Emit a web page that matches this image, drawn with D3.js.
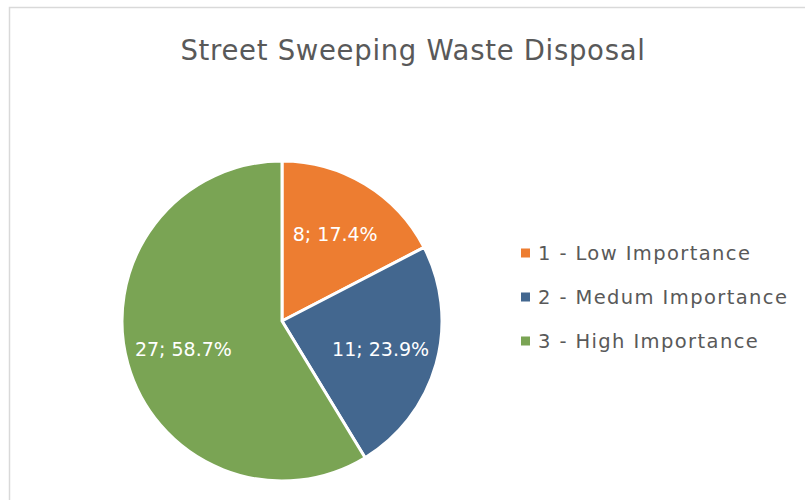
<!DOCTYPE html>
<html>
<head>
<meta charset="utf-8">
<script src="https://cdn.jsdelivr.net/npm/d3@7"></script>
<style>
  body { margin: 0; background: #fff; }
  svg { display: block; font-family: "DejaVu Sans", "Noto Sans", sans-serif; }
</style>
</head>
<body>
<svg id="chart"></svg>
<script>
const categories = ["1 - Low Importance", "2 - Medum Importance", "3 - High Importance"];
const counts = [8, 11, 27];
const percents = [17.4, 23.9, 58.7];
const colors = ["#ED7D31", "#43678F", "#7AA454"];

const width = 805, height = 500;
const svg = d3.select("#chart").attr("width", width).attr("height", height);

// chart frame (runs off the right and bottom)
svg.append("rect")
    .attr("x", 9.5).attr("y", 7.5)
    .attr("width", 820).attr("height", 520)
    .attr("fill", "#fff")
    .attr("stroke", "#d9d9d9")
    .attr("stroke-width", 1.5);

svg.append("text")
    .attr("x", 413).attr("y", 60)
    .attr("text-anchor", "middle")
    .attr("font-size", 27.5)
    .attr("letter-spacing", 0.7)
    .attr("fill", "#595959")
    .text("Street Sweeping Waste Disposal");

const cx = 282, cy = 321, radius = 160;
const data = categories.map((c, i) => ({ cat: c, count: counts[i], pct: percents[i], color: colors[i] }));

const pie = d3.pie().value(d => d.count).sort(null);
const arc = d3.arc().innerRadius(0).outerRadius(radius);
const labelArc = d3.arc().innerRadius(radius * 0.64).outerRadius(radius * 0.64);

const g = svg.append("g").attr("transform", `translate(${cx},${cy})`);
const arcs = pie(data);

g.selectAll("path.slice")
    .data(arcs)
    .enter().append("path")
    .attr("class", "slice")
    .attr("d", arc)
    .attr("fill", d => d.data.color)
    .attr("stroke", "#fff")
    .attr("stroke-width", 3)
    .attr("stroke-linejoin", "round");

g.selectAll("text.lbl")
    .data(arcs)
    .enter().append("text")
    .attr("class", "lbl")
    .attr("transform", d => `translate(${labelArc.centroid(d)})`)
    .attr("text-anchor", "middle")
    .attr("dominant-baseline", "central")
    .attr("font-size", 19)
    .attr("fill", "#fff")
    .text(d => `${d.data.count}; ${d.data.pct.toFixed(1)}%`);

// legend
const legend = svg.append("g").attr("transform", "translate(521,253)");
const rows = legend.selectAll("g.row")
    .data(data)
    .enter().append("g")
    .attr("class", "row")
    .attr("transform", (d, i) => `translate(0,${i * 44})`);

rows.append("rect")
    .attr("x", 0).attr("y", -4.5)
    .attr("width", 9).attr("height", 9)
    .attr("fill", d => d.color);

rows.append("text")
    .attr("x", 17).attr("y", 0)
    .attr("dominant-baseline", "central")
    .attr("font-size", 19.5)
    .attr("letter-spacing", 1.4)
    .attr("fill", "#595959")
    .text(d => d.cat);
</script>
</body>
</html>
